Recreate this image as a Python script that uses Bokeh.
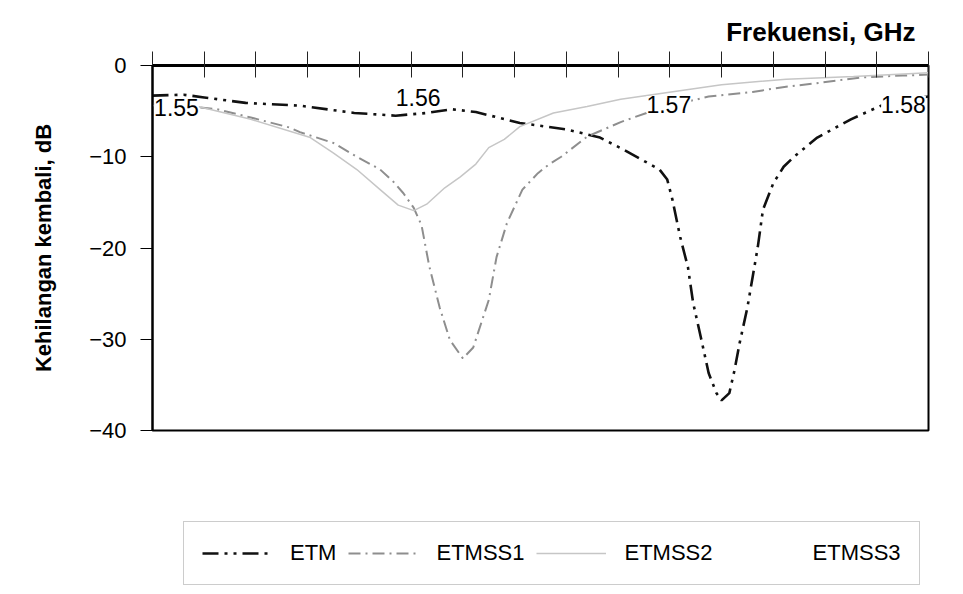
from bokeh.plotting import figure
from bokeh.layouts import column
from bokeh.models import (Range1d, FixedTicker, Legend, LegendItem, LabelSet,
                          ColumnDataSource, CustomJSTickFormatter)
from bokeh.core.properties import value
from bokeh.embed import file_html
from bokeh.resources import INLINE

# ---------------- data ----------------
etm_f = [1.5500, 1.5512, 1.5520, 1.5536, 1.5557, 1.5578, 1.5594, 1.5606, 1.5616,
         1.5625, 1.5642, 1.5660, 1.5673, 1.5682, 1.5696, 1.5699, 1.5701, 1.5704,
         1.5707, 1.5709, 1.5712, 1.5715, 1.5718, 1.5720, 1.5723, 1.5725, 1.5727,
         1.5730, 1.5732, 1.5734, 1.5736, 1.5740, 1.5744, 1.5748, 1.5757, 1.5770,
         1.5784, 1.5800]
etm_db = [-3.3, -3.2, -3.5, -4.1, -4.4, -5.2, -5.5, -5.2, -4.8,
          -5.1, -6.3, -7.0, -7.9, -9.2, -11.4, -12.5, -14.7, -18.8,
          -22.1, -26.0, -29.8, -33.7, -35.9, -36.7, -35.9, -33.4, -30.4,
          -26.5, -23.2, -19.9, -15.8, -12.9, -11.1, -10.0, -7.9, -5.9,
          -4.1, -3.4]

etmss1_f = [1.5500, 1.5515, 1.5525, 1.5538, 1.5553, 1.5557, 1.5570, 1.5579, 1.5588,
            1.5593, 1.5597, 1.5601, 1.5604, 1.5607, 1.5611, 1.5615, 1.5620, 1.5624,
            1.5630, 1.5633, 1.5637, 1.5643, 1.5649, 1.5653, 1.5658, 1.5668, 1.5681,
            1.5696, 1.5715, 1.5732, 1.5743, 1.5758, 1.5774, 1.5790, 1.5800]
etmss1_db = [-4.2, -4.5, -4.8, -5.7, -6.8, -7.3, -8.5, -10.0, -11.4,
             -12.7, -14.0, -15.6, -17.5, -22.0, -26.5, -30.1, -32.1, -30.9,
             -25.7, -21.0, -17.3, -13.6, -11.8, -10.9, -10.0, -7.8, -6.2,
             -4.7, -3.4, -2.9, -2.4, -1.9, -1.3, -1.1, -1.0]

etmss2_f = [1.5500, 1.5512, 1.5538, 1.5561, 1.5570, 1.5579, 1.5588, 1.5595, 1.5601,
            1.5606, 1.5613, 1.5619, 1.5625, 1.5630, 1.5636, 1.5642, 1.5655, 1.5668,
            1.5681, 1.5720, 1.5745, 1.5771, 1.5800]
etmss2_db = [-4.4, -4.1, -5.9, -7.9, -9.6, -11.4, -13.6, -15.3, -15.9,
             -15.2, -13.4, -12.2, -10.8, -9.0, -8.1, -6.7, -5.2, -4.5,
             -3.7, -2.1, -1.5, -1.2, -0.8]

# ETMSS3 is listed in the legend but its trace is not visible in the picture
etmss3_f = []
etmss3_db = []

series_names = ["ETM", "ETMSS1", "ETMSS2", "ETMSS3"]

x_tick_values = [1.550, 1.552, 1.554, 1.556, 1.558, 1.560, 1.562, 1.564,
                 1.566, 1.568, 1.570, 1.572, 1.574, 1.576, 1.578, 1.580]
x_label_values = [1.55, 1.56, 1.57, 1.58]
x_label_texts = ["1.55", "1.56", "1.57", "1.58"]
y_tick_values = [0, -10, -20, -30, -40]
y_tick_labels = ["0", "\u221210", "\u221220", "\u221230", "\u221240"]

FONT = "Liberation Sans"
styles = [dict(line_color="#111111", line_width=2.6, line_dash="16 6 3 6 3 6"),
          dict(line_color="#8e8e8e", line_width=2, line_dash="12 5 2 5"),
          dict(line_color="#c6c6c6", line_width=1.5, line_dash="solid"),
          dict(line_color="#e8e8e8", line_width=1.5, line_dash="solid")]

# ---------------- main chart ----------------
W, H = 961, 452
p = figure(width=W, height=H,
           x_range=Range1d(1.55, 1.58), y_range=Range1d(-40, 0),
           x_axis_location="above",
           output_backend="svg", toolbar_location=None,
           min_border_left=152, min_border_right=W - 928,
           min_border_top=65, min_border_bottom=H - 430,
           title="Frekuensi, GHz")
p.background_fill_color = "white"
p.border_fill_color = "white"
p.grid.visible = False
p.outline_line_color = "black"
p.outline_line_width = 2

p.title.align = "right"
p.title.text_font = FONT
p.title.text_font_size = "26px"
p.title.text_font_style = "bold"
p.title.text_color = "black"
p.title.offset = 13

xa = p.xaxis[0]
xa.ticker = FixedTicker(ticks=x_tick_values)
xa.formatter = CustomJSTickFormatter(code="return ''")
xa.major_tick_in = 12
xa.major_tick_out = 14
xa.minor_tick_line_color = None
xa.major_tick_line_color = "#222222"
xa.major_tick_line_width = 1
xa.axis_line_width = 3
xa.axis_line_color = "black"
xa.major_label_standoff = 0
xa.major_label_text_font_size = "1px"

ya = p.yaxis[0]
ya.ticker = FixedTicker(ticks=y_tick_values)
ya.major_label_overrides = {v: t for v, t in zip(y_tick_values, y_tick_labels)}
ya.major_tick_in = 0
ya.major_tick_out = 12
ya.minor_tick_line_color = None
ya.axis_line_width = 2
ya.major_label_text_font = FONT
ya.major_label_text_font_size = "22px"
ya.major_label_text_color = "black"
ya.major_label_standoff = 14
ya.axis_label = "Kehilangan kembali, dB"
ya.axis_label_text_font = FONT
ya.axis_label_text_font_size = "22px"
ya.axis_label_text_font_style = "bold"
ya.axis_label_text_color = "black"
ya.axis_label_standoff = 30

series = [(etm_f, etm_db), (etmss1_f, etmss1_db),
          (etmss2_f, etmss2_db), (etmss3_f, etmss3_db)]
for (fx, fy), st in zip(series, styles):
    p.line(fx, fy, **st)

# frequency tick labels drawn inside the frame, under the top axis
lab_src = ColumnDataSource(dict(
    x=x_label_values,
    y=[y_tick_values[0]] * len(x_label_values),
    text=x_label_texts,
    dx=[24, 7, -1, -25],
    dy=[-42, -32, -39, -39],
))
labels = LabelSet(x="x", y="y", text="text", source=lab_src,
                  x_offset="dx", y_offset="dy",
                  text_align="center", text_baseline="middle",
                  text_font=value(FONT), text_font_size="23px", text_color="black",
                  background_fill_color="white")
p.add_layout(labels)

# ---------------- legend strip below ----------------
LH = 592 - H
pl = figure(width=W, height=LH, output_backend="svg", toolbar_location=None,
            x_range=Range1d(0, 1), y_range=Range1d(0, 1),
            x_axis_location=None, y_axis_location=None,
            min_border_left=0, min_border_right=0,
            min_border_top=0, min_border_bottom=0)
pl.grid.visible = False
pl.outline_line_color = None
pl.background_fill_color = "white"
pl.border_fill_color = "white"
# same series, outside this strip's ranges: they only provide the legend samples
leg_renderers = [pl.line(fx, fy, **st) for (fx, fy), st in zip(series, styles)]

legend = Legend(items=[LegendItem(label=n, renderers=[r]) for n, r in
                       zip(series_names, leg_renderers)],
                orientation="horizontal", location=(31, 7),
                glyph_width=70, glyph_height=20, label_standoff=18,
                spacing=12, padding=18, margin=0,
                label_text_font=FONT, label_text_font_size="22px",
                label_text_color="black",
                border_line_color="#999999", border_line_width=1,
                background_fill_color="white", background_fill_alpha=1)
pl.add_layout(legend, "center")

layout = column(p, pl, spacing=0)
open("out.html", "w").write(file_html(layout, INLINE))
